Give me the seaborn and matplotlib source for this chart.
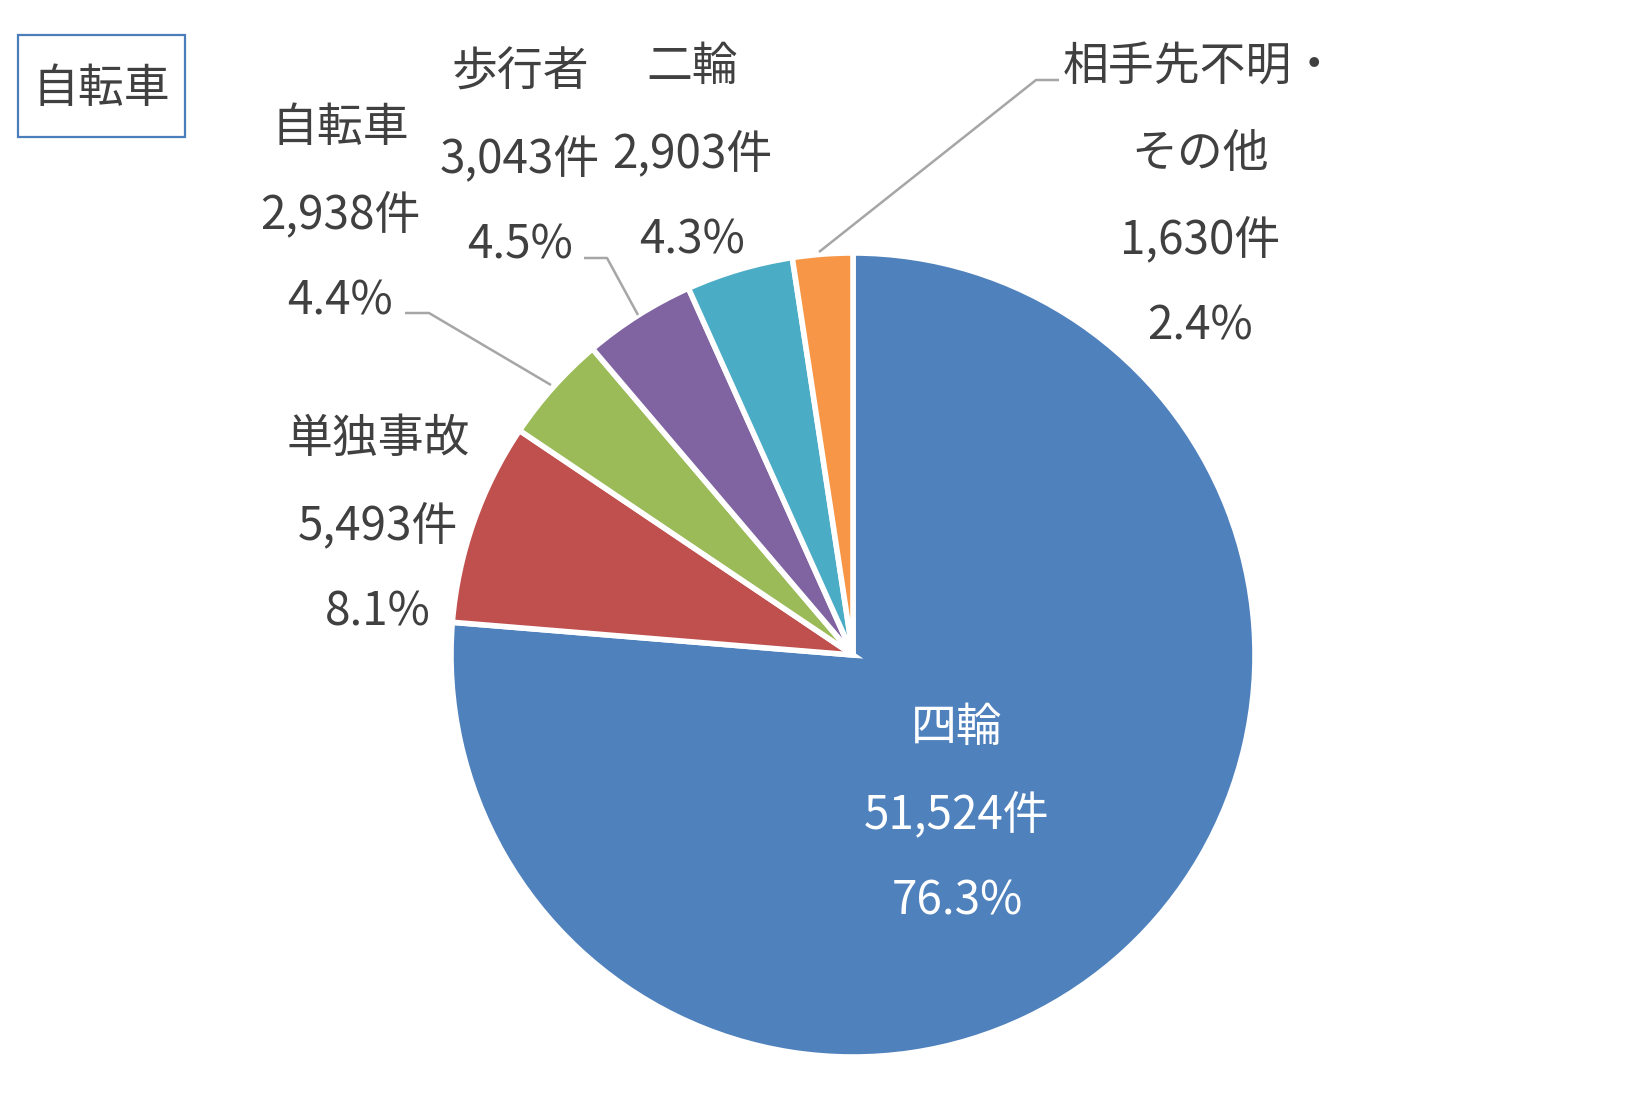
import matplotlib
matplotlib.use("Agg")
import matplotlib.pyplot as plt
from matplotlib.patches import Rectangle
import seaborn as sns

# ---- data ----
categories = ["四輪", "単独事故", "自転車", "歩行者", "二輪", "相手先不明・\nその他"]
counts = [51524, 5493, 2938, 3043, 2903, 1630]
colors = ["#4F81BD", "#C0504D", "#9BBB59", "#8064A2", "#4BACC6", "#F79646"]
title_box = "自転車"

# ---- layout (pixel coords, y from top) ----
W, H = 1641, 1109
center_px = (853, 655)
radius_px = 402
# label anchor: (x center, first line y center)
label_pos = [(957, 728), (378, 439), (340, 128), (520, 72), (692, 67), (1200, 67)]
line_step = 86.5
label_colors = ["white", "#404040", "#404040", "#404040", "#404040", "#404040"]
leaders = {
    2: [(405, 313), (429, 313), (551, 385)],
    3: [(584, 258), (607, 258), (638, 315)],
    5: [(1059, 80), (1036, 80), (819, 252)],
}

sns.set_theme(style="white")
plt.rcParams['font.family'] = ['Noto Sans CJK JP', 'DejaVu Sans']

fig = plt.figure(figsize=(W / 100, H / 100), dpi=100)
ax = fig.add_axes([0, 0, 1, 1])
ax.set_xlim(0, W)
ax.set_ylim(0, H)
ax.set_aspect("equal")
ax.axis("off")

def fy(y):
    return H - y

ax.pie(counts, colors=colors, startangle=90, counterclock=False,
       center=(center_px[0], fy(center_px[1])), radius=radius_px,
       wedgeprops=dict(edgecolor="white", linewidth=4))
ax.set_xlim(0, W)
ax.set_ylim(0, H)

total = sum(counts)
fs = 33
for i, (cat, n) in enumerate(zip(categories, counts)):
    lines = cat.split("\n") + [f"{n:,}件", f"{n / total * 100:.1f}%"]
    x0, y0 = label_pos[i]
    for j, ln in enumerate(lines):
        ax.text(x0, fy(y0 + j * line_step), ln, ha="center", va="center",
                fontsize=fs, color=label_colors[i])

for k, pts in leaders.items():
    xs = [p[0] for p in pts]
    ys = [fy(p[1]) for p in pts]
    ax.plot(xs, ys, color="#A6A6A6", linewidth=1.8, solid_capstyle="butt")

# title box
ax.add_patch(Rectangle((18, fy(137)), 167, 102, fill=False,
                       edgecolor="#4A7EBB", linewidth=1.6))
ax.text(101, fy(89), title_box, ha="center", va="center", fontsize=fs, color="#404040")

fig.savefig("out.png", dpi=100, facecolor="white")
